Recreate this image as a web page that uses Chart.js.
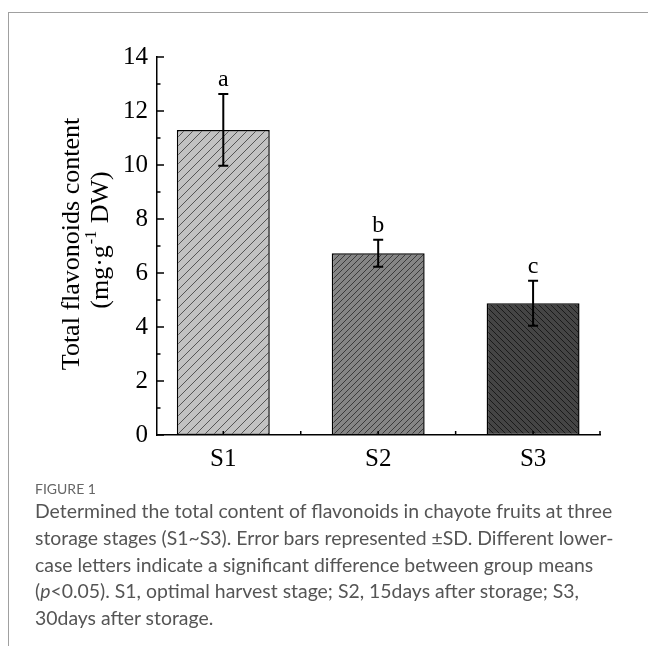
<!DOCTYPE html>
<html><head><meta charset="utf-8">
<script src="https://cdn.jsdelivr.net/npm/chart.js@4.4.0/dist/chart.umd.min.js"></script>
<style>
html,body{margin:0;padding:0;background:#fff;width:648px;height:646px;overflow:hidden;position:relative;}
#frame{position:absolute;left:8px;top:12px;width:660px;height:660px;border-left:1px solid #a0a0a0;border-top:1px solid #a0a0a0;}
#wrap{position:absolute;left:0;top:0;width:648px;height:480px;}
#fig{position:absolute;left:35px;top:479px;color:#666;font-family:Lato,sans-serif;font-size:14px;font-weight:400;white-space:nowrap;line-height:20px;}
#cap{position:absolute;left:35px;top:498px;color:#555;font-family:Lato,sans-serif;font-weight:400;}
#cap div{white-space:nowrap;height:26.75px;line-height:26.75px;}
</style></head><body>
<div id="frame"></div>
<div id="wrap"><canvas id="c" width="648" height="480"></canvas></div>
<div id="fig">FIGURE 1</div>
<div id="cap">
<div id="l1">Determined the total content of flavonoids in chayote fruits at three</div>
<div>storage stages (S1~S3). Error bars represented ±SD. Different lower-</div>
<div>case letters indicate a significant difference between group means</div>
<div>(<i>p</i>&lt;0.05). S1, optimal harvest stage; S2, 15days after storage; S3,</div>
<div>30days after storage.</div>
</div>
<script>
const categories = ['S1', 'S2', 'S3'];
const means = [11.3, 6.73, 4.88];
const sds = [1.33, 0.5, 0.83];
const letters = ['a', 'b', 'c'];
const yTicks = [0, 2, 4, 6, 8, 10, 12, 14];
const yTitle1 = 'Total flavonoids content';
const yTitle2 = ['(mg·g', '-1', ' DW)'];

// caption fit
(function(){
  const c = document.createElement('canvas').getContext('2d');
  c.font = '400 100px Lato';
  const w = c.measureText(document.getElementById('l1').textContent).width;
  document.getElementById('cap').style.fontSize = (578 / w * 100).toFixed(2) + 'px';
})();

function makePattern(bg, fg, s, dir, lw) {
  const c = document.createElement('canvas');
  c.width = s; c.height = s;
  const g = c.getContext('2d');
  g.fillStyle = bg; g.fillRect(0, 0, s, s);
  g.strokeStyle = fg; g.lineWidth = lw;
  g.beginPath();
  if (dir > 0) {
    g.moveTo(0, s); g.lineTo(s, 0);
    g.moveTo(-1, 1); g.lineTo(1, -1);
    g.moveTo(s - 1, s + 1); g.lineTo(s + 1, s - 1);
  } else {
    g.moveTo(0, 0); g.lineTo(s, s);
    g.moveTo(s - 1, -1); g.lineTo(s + 1, 1);
    g.moveTo(-1, s - 1); g.lineTo(1, s + 1);
  }
  g.stroke();
  return g.createPattern(c, 'repeat');
}

const fills = [
  makePattern('#c2c2c2', '#555555', 9, 1, 1),
  makePattern('#858585', '#3a3a3a', 6, 1, 1),
  makePattern('#454545', '#1a1a1a', 6, -1, 1)
];

const SERIF = '"Liberation Serif", "Times New Roman", serif';

const extras = {
  id: 'extras',
  afterDatasetsDraw(chart) {
    const ctx = chart.ctx, xs = chart.scales.x, ys = chart.scales.y;
    ctx.save();
    ctx.strokeStyle = '#000'; ctx.lineWidth = 2;
    means.forEach((m, i) => {
      const x = xs.getPixelForValue(i + 1);
      const t = ys.getPixelForValue(m + sds[i]);
      const b = ys.getPixelForValue(m - sds[i]);
      ctx.beginPath();
      ctx.moveTo(x, t); ctx.lineTo(x, b);
      ctx.moveTo(x - 5, t); ctx.lineTo(x + 5, t);
      ctx.moveTo(x - 5, b); ctx.lineTo(x + 5, b);
      ctx.stroke();
      ctx.fillStyle = '#000';
      ctx.font = '24px ' + SERIF;
      ctx.textAlign = 'center'; ctx.textBaseline = 'alphabetic';
      ctx.fillText(letters[i], x, t - 8);
    });
    ctx.restore();
  },
  afterDraw(chart) {
    const ctx = chart.ctx, xs = chart.scales.x, ys = chart.scales.y;
    const L = chart.chartArea.left, B = chart.chartArea.bottom;
    ctx.save();
    ctx.strokeStyle = '#000'; ctx.lineWidth = 1.5;
    ctx.beginPath();
    for (let v = ys.min; v <= ys.max; v += 1) {
      const y = ys.getPixelForValue(v);
      const len = (v % 2 === 0) ? 7 : 3.5;
      ctx.moveTo(L, y); ctx.lineTo(L + len, y);
    }
    const xt = [1, 1.5, 2, 2.5, 3, xs.max];
    xt.forEach(v => {
      const x = xs.getPixelForValue(v);
      ctx.moveTo(x, B); ctx.lineTo(x, B - 4);
    });
    ctx.stroke();
    // y title
    ctx.fillStyle = '#000';
    ctx.font = '26px ' + SERIF;
    ctx.textAlign = 'center'; ctx.textBaseline = 'middle';
    ctx.translate(72, 244);
    ctx.rotate(-Math.PI / 2);
    ctx.fillText(yTitle1, 0, 0);
    ctx.rotate(Math.PI / 2);
    ctx.translate(29, -4);
    ctx.rotate(-Math.PI / 2);
    const f1 = '26px ' + SERIF, f2 = '16px ' + SERIF;
    ctx.font = f1; const w0 = ctx.measureText(yTitle2[0]).width;
    const w2 = ctx.measureText(yTitle2[2]).width;
    ctx.font = f2; const w1 = ctx.measureText(yTitle2[1]).width + 2;
    let sx = -(w0 + w1 + w2) / 2;
    ctx.textAlign = 'left';
    ctx.font = f1; ctx.fillText(yTitle2[0], sx, 0); sx += w0 + 1;
    ctx.font = f2; ctx.fillText(yTitle2[1], sx, -9); sx += w1 - 1;
    ctx.font = f1; ctx.fillText(yTitle2[2], sx, 0);
    ctx.restore();
  }
};

new Chart(document.getElementById('c'), {
  type: 'bar',
  data: {
    datasets: [{
      data: means.map((v, i) => ({ x: i + 1, y: v })),
      backgroundColor: fills,
      borderColor: '#000',
      borderWidth: 1.5,
      borderSkipped: false,
      barPercentage: 0.6,
      categoryPercentage: 1.0
    }]
  },
  options: {
    responsive: false,
    animation: false,
    events: [],
    layout: { padding: { left: 0, right: 48, top: 57, bottom: 0 } },
    plugins: { legend: { display: false }, tooltip: { enabled: false } },
    scales: {
      x: {
        type: 'linear', min: 0.572, max: 3.432, offset: false,
        grid: { display: false, drawTicks: false, offset: false },
        border: { display: true, color: '#000', width: 1.5 },
        afterBuildTicks: (s) => { s.ticks = categories.map((c, i) => ({ value: i + 1 })); },
        afterFit: (s) => { s.height = 45; },
        ticks: {
          padding: 9, color: '#000', autoSkip: false, maxRotation: 0,
          font: { family: SERIF, size: 25 },
          callback: (v) => categories[v - 1] ?? ''
        }
      },
      y: {
        min: 0, max: 14,
        grid: { display: false, drawTicks: false },
        border: { display: true, color: '#000', width: 1.5 },
        afterBuildTicks: (s) => { s.ticks = yTicks.map(v => ({ value: v })); },
        afterFit: (s) => { s.width = 157; },
        ticks: {
          padding: 9, color: '#000',
          font: { family: SERIF, size: 25 }
        }
      }
    }
  },
  plugins: [extras]
});
</script>
</body></html>
